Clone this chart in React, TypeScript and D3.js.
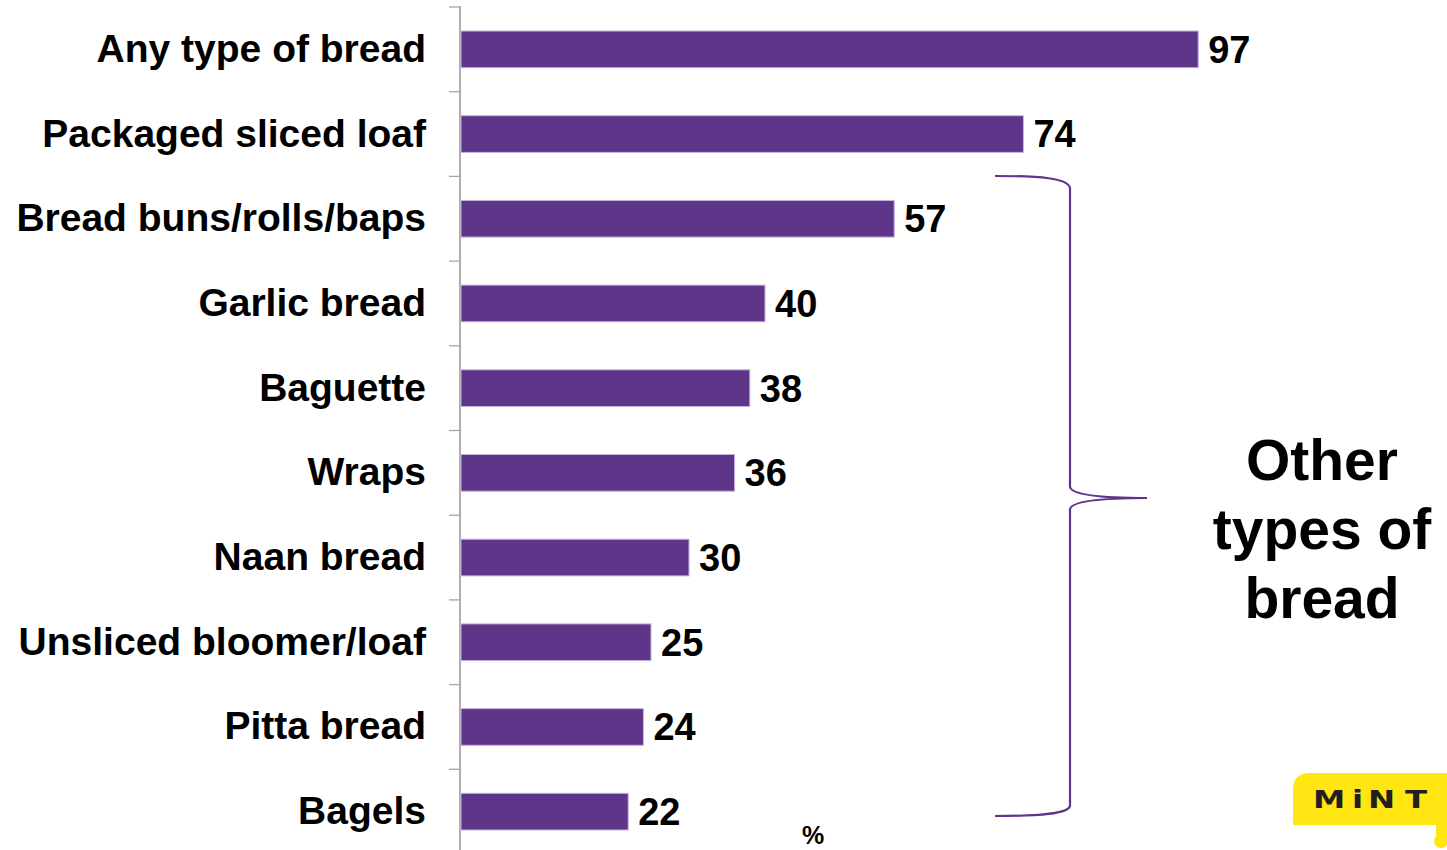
import React from "react";
import * as d3 from "d3";

const categories = [
  "Any type of bread",
  "Packaged sliced loaf",
  "Bread buns/rolls/baps",
  "Garlic bread",
  "Baguette",
  "Wraps",
  "Naan bread",
  "Unsliced bloomer/loaf",
  "Pitta bread",
  "Bagels",
];
const values = [97, 74, 57, 40, 38, 36, 30, 25, 24, 22];
const bracketLabel = ["Other", "types of", "bread"];
const unitLabel = "%";
const logoLetters = ["M", "i", "N", "T"];

const W = 1447;
const H = 850;
const FONT = "'Liberation Sans', Arial, Helvetica, sans-serif";
const PURPLE = "#5f3589";

export default function App() {
  const x = d3.scaleLinear().domain([0, 100]).range([461, 1221]);
  const y = d3
    .scaleBand<string>()
    .domain(categories)
    .range([7, 854])
    .paddingInner(0.567)
    .paddingOuter(0.2835);
  const step = y.step();
  const ticks = d3.range(categories.length + 1).map((i) => 7 + i * step);

  const bracket =
    "M995,176 C1040,176 1068,178 1070,188 L1070,487 C1072,495 1100,498 1147,498 " +
    "C1100,498 1072,501 1070,509 L1070,806 C1068,814 1040,816 995,816";

  const logoX = [1313, 1352, 1368, 1405];

  return (
    <svg
      width={W}
      height={H}
      style={{ position: "absolute", left: 0, top: 0, background: "#fff" }}
      fontFamily={FONT}
    >
      {/* axis */}
      <line x1={460} x2={460} y1={6} y2={H} stroke="#a6a6a6" strokeWidth={1.8} />
      {ticks.map((t, i) => (
        <line key={i} x1={449} x2={460} y1={t} y2={t} stroke="#a6a6a6" strokeWidth={1.3} />
      ))}

      {/* bars */}
      {categories.map((c, i) => {
        const yy = y(c)!;
        const bh = y.bandwidth();
        const cy = yy + bh / 2;
        return (
          <g key={c}>
            <rect
              x={x(0)}
              y={yy}
              width={x(values[i]) - x(0)}
              height={bh}
              fill={PURPLE}
              stroke="#c4b4da"
              strokeWidth={1}
            />
            <text
              x={426}
              y={cy + 12.5}
              textAnchor="end"
              fontSize={39}
              fontWeight="bold"
              fill="#000"
            >
              {c}
            </text>
            <text
              x={x(values[i]) + 10}
              y={cy + 13.4}
              fontSize={38}
              fontWeight="bold"
              fill="#000"
            >
              {values[i]}
            </text>
          </g>
        );
      })}

      {/* unit */}
      <text x={813} y={844} textAnchor="middle" fontSize={25} fontWeight="bold" fill="#000">
        {unitLabel}
      </text>

      {/* bracket */}
      <path d={bracket} fill="none" stroke={PURPLE} strokeWidth={2.2} />
      {bracketLabel.map((l, i) => (
        <text
          key={l}
          x={1322}
          y={480 + i * 69}
          textAnchor="middle"
          fontSize={57}
          fontWeight="bold"
          fill="#000"
        >
          {l}
        </text>
      ))}

      {/* logo */}
      <path
        d="M1293,825 L1293,790 Q1293,773 1310,773 L1447,773 L1447,825 Z"
        fill="#ffe512"
      />
      <circle cx={1441} cy={841} r={7} fill="#ffe512" />
      <rect x={1436} y={825} width={11} height={13} fill="#ffe512" />
      {logoLetters.map((ch, i) => (
        <text
          key={i}
          transform={`translate(${logoX[i]},808) scale(1.35,1)`}
          fontSize={24}
          fontWeight="bold"
          fill="#231f20"
          fontFamily="'DejaVu Sans', sans-serif"
        >
          {ch}
        </text>
      ))}
    </svg>
  );
}
